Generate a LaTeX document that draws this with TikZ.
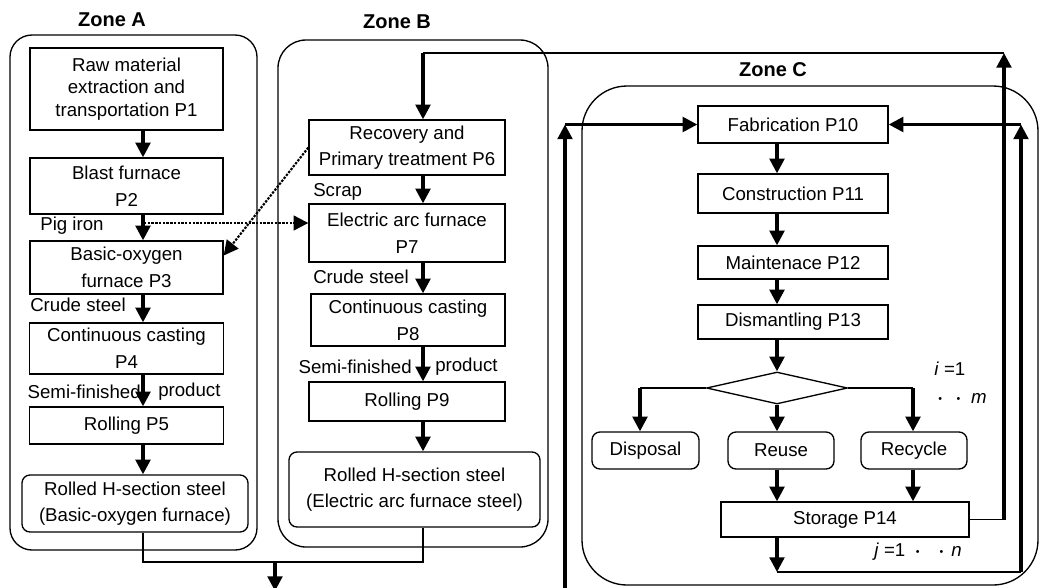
\documentclass[tikz,border=0pt]{standalone}
\usepackage{fontspec}
\setmainfont{Liberation Sans}
\usetikzlibrary{arrows.meta,shapes.geometric,calc}
\newcommand{\kdot}{\raisebox{1pt}{\fontsize{8}{8}\selectfont\textbullet}}
\begin{document}
\begin{tikzpicture}[x=0.75pt,y=-0.75pt,
  every node/.style={font=\fontsize{14}{20}\selectfont},
  pbox/.style={draw, line width=1pt, inner sep=0pt, align=center},
  rbox/.style={pbox, rounded corners=6pt},
  zone/.style={draw, line width=1pt, inner sep=0pt},
  ztitle/.style={font=\fontsize{15}{18}\selectfont\bfseries, inner sep=0pt},
  lbl/.style={inner sep=0pt},
  flow/.style={line width=2.4pt, -{Triangle[length=11pt,width=11pt]}},
  link/.style={line width=1pt},
  dots/.style={line width=1.6pt, dash pattern=on 1.8pt off 1pt, -{Triangle[length=11pt,width=11pt]}}
]
\useasboundingbox (0,0) rectangle (1039,587);

% zone frames and titles
\node[zone, rounded corners=16.5pt, minimum width=185.25pt, minimum height=386.25pt] (zA) at (133.5,292.5) {};
\node[zone, rounded corners=21pt, minimum width=202.5pt, minimum height=380.25pt] (zB) at (413,293.5) {};
\node[zone, rounded corners=33.75pt, minimum width=342pt, minimum height=374.25pt] (zC) at (810,335.5) {};
\node[ztitle] (tA) at (112,20) {Zone A};
\node[ztitle] (tB) at (397,22) {Zone B};
\node[ztitle] (tC) at (773,70) {Zone C};

% columns of the main flows
\coordinate (ca) at (143,0);
\coordinate (cb) at (423,0);
\coordinate (cc) at (777,0);

% Zone A: basic-oxygen furnace route
\node[pbox, minimum width=144.75pt, minimum height=61.5pt, font=\fontsize{14}{17}\selectfont] (P1) at (126.5,89) {Raw material\\extraction and\\transportation P1};
\node[pbox, minimum width=144.75pt, minimum height=42pt] (P2) at (126.5,186) {Blast furnace\\P2};
\node[pbox, minimum width=144.75pt, minimum height=39.75pt] (P3) at (126.5,267.5) {Basic-oxygen\\furnace P3};
\node[pbox, minimum width=145.5pt, minimum height=38.25pt] (P4) at (126.5,348.5) {Continuous casting\\P4};
\node[pbox, minimum width=145.5pt, minimum height=27.75pt] (P5) at (126.5,425.5) {Rolling P5};
\node[rbox, minimum width=169.5pt, minimum height=42.75pt] (RA) at (135,503.5) {Rolled H-section steel\\(Basic-oxygen furnace)};

% Zone B: electric arc furnace route
\node[pbox, minimum width=147pt, minimum height=41.25pt] (P6) at (407,147.5) {Recovery and\\Primary treatment P6};
\node[pbox, minimum width=147pt, minimum height=43.5pt] (P7) at (407,233) {Electric arc furnace\\P7};
\node[pbox, minimum width=145.5pt, minimum height=39pt] (P8) at (408,320) {Continuous casting\\P8};
\node[pbox, minimum width=147pt, minimum height=29.25pt] (P9) at (407,401.5) {Rolling P9};
\node[rbox, minimum width=188.25pt, minimum height=56.25pt] (RB) at (414.5,489.5) {Rolled H-section steel\\(Electric arc furnace steel)};

% Zone C: use phase
\node[pbox, minimum width=142.5pt, minimum height=27.75pt] (P10) at (793,124.5) {Fabrication P10};
\node[pbox, minimum width=142.5pt, minimum height=29.25pt] (P11) at (793,193.5) {Construction P11};
\node[pbox, minimum width=142.5pt, minimum height=24.75pt] (P12) at (793,262.5) {Maintenace P12};
\node[pbox, minimum width=142.5pt, minimum height=25.5pt] (P13) at (793,322) {Dismantling P13};
\node[draw, diamond, line width=1pt, inner sep=0pt, minimum width=105.75pt, minimum height=24pt] (D) at (777,388) {};
\node[rbox, minimum width=80.25pt, minimum height=27.75pt] (Dis) at (645.5,450.5) {Disposal};
\node[rbox, minimum width=79.5pt, minimum height=27.75pt] (Reu) at (781,450.5) {Reuse};
\node[rbox, minimum width=79.5pt, minimum height=27.75pt] (Rec) at (914,450.5) {Recycle};
\node[pbox, minimum width=186pt, minimum height=26.25pt] (P14) at (845,519.5) {Storage P14};

% flow labels
\node[lbl] (pigl) at (72,226) {Pig iron};
\node[lbl] (crA) at (78,305) {Crude steel};
\node[lbl, anchor=east] (semA) at (141,392) {Semi-finished};
\node[lbl, anchor=west] (prA) at (158,392) {product};
\node[lbl, anchor=west] (scr) at (313,192) {Scrap};
\node[lbl, anchor=west] (crB) at (313,277) {Crude steel};
\node[lbl, anchor=east] (semB) at (412,367) {Semi-finished};
\node[lbl, anchor=west] (prB) at (435,367) {product};
\node[lbl, anchor=west, align=left, font=\fontsize{14}{21}\selectfont] (im) at (934,383) {\textit{i} =1\\\hspace*{3pt}\kdot\hspace*{11pt}\kdot\hspace*{8pt}\textit{m}};
\node[lbl, anchor=west] (jn) at (874,552) {\textit{j} =1\hspace*{8pt}\kdot\hspace*{15pt}\kdot\hspace*{6pt}\textit{n}};

% Zone A arrows
\draw[flow] (P1.south -| ca) -- (P2.north -| ca);
\draw[flow] (P2.south -| ca) -- (P3.north -| ca);
\draw[flow] (P3.south -| ca) -- (P4.north -| ca);
\draw[flow] (P4.south -| ca) -- (P5.north -| ca);
\draw[flow] (P5.south -| ca) -- (RA.north -| ca);

% Zone B arrows
\draw[flow] (P6.south -| cb) -- (P7.north -| cb);
\draw[flow] (P7.south -| cb) -- (P8.north -| cb);
\draw[flow] (P8.south -| cb) -- (P9.north -| cb);
\draw[flow] (P9.south -| cb) -- (RB.north -| cb);

% Zone C arrows
\draw[flow] (P10.south -| cc) -- (P11.north -| cc);
\draw[flow] (P11.south -| cc) -- (P12.north -| cc);
\draw[flow] (P12.south -| cc) -- (P13.north -| cc);
\draw[flow] (P13.south -| cc) -- (D.north);
\coordinate (bl) at (640,388);
\coordinate (br) at (913,388);
\draw[link] (D.west) -- (bl);
\draw[link] (D.east) -- (br);
\draw[flow] (bl) -- (Dis.north -| bl);
\draw[flow] (br) -- (Rec.north -| br);
\draw[flow] (D.south) -- (Reu.north -| cc);
\draw[flow] (Reu.south -| cc) -- (P14.north -| cc);
\draw[flow] (Rec.south -| br) -- (P14.north -| br);

% cross-zone transfers of iron and scrap
\coordinate (pig) at (144,223);
\draw[dots] (pig) -- (P7.west |- pig);
\draw[dots] (P6.west) -- ($(P3.east)+(0,-12)$);

% returns from storage
\coordinate (s1) at (1004,519.5);
\coordinate (s2) at (1004,53);
\draw[link] (P14.east) -- (s1);
\draw[flow] (s1) -- (s2);
\draw[link] (s2) -- (s2 -| cb);
\draw[flow] (s2 -| cb) -- (P6.north -| cb);

\coordinate (s3) at (777,572);
\coordinate (s4) at (1021,572);
\draw[flow] (P14.south -| cc) -- (s3);
\draw[link] (s3) -- (s4);
\draw[flow] (s4) -- (s4 |- P10.east);
\draw[flow] (s4 |- P10.east) -- (P10.east);

% supply into fabrication
\coordinate (l0) at (565,595);
\draw[flow] (l0) -- (l0 |- P10.west);
\draw[flow] (l0 |- P10.west) -- (P10.west);

% products leaving zones A and B
\coordinate (m) at (275,562);
\coordinate (mout) at (275,591);
\draw[link] (RA.south -| ca) -- (ca |- m) -- (cb |- m) -- (RB.south -| cb);
\draw[flow] (m) -- (mout);
\end{tikzpicture}
\end{document}
